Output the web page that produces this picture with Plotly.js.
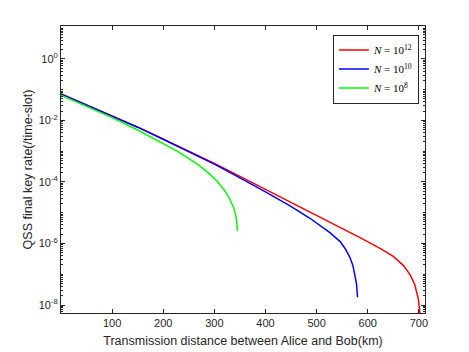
<!DOCTYPE html>
<html>
<head>
<meta charset="utf-8">
<script src="https://cdn.plot.ly/plotly-3.0.1.min.js"></script>
<style>
  html, body { margin: 0; padding: 0; background: #ffffff; }
  #chart { width: 469px; height: 352px; }
</style>
</head>
<body>
<div id="chart"></div>
<script>
// Distance (km) and key rate for each block size N
const distN12 = [0, 50, 100, 150, 200, 250, 300, 350, 400, 450, 500, 546, 585, 624, 650, 670, 683, 692, 699, 703];
const rateN12 = [7.24e-2, 3.16e-2, 1.45e-2, 6.03e-3, 2.45e-3, 1.00e-3, 3.98e-4, 1.51e-4, 5.75e-5, 2.19e-5,
                 8.32e-6, 3.39e-6, 1.55e-6, 6.92e-7, 3.80e-7, 1.91e-7, 9.55e-8, 4.57e-8, 1.58e-8, 4.0e-9];

const distN10 = [0, 50, 100, 150, 200, 250, 300, 350, 400, 448, 487, 526, 536, 546, 556, 565, 571, 575, 578, 580];
const rateN10 = [7.24e-2, 3.16e-2, 1.45e-2, 6.03e-3, 2.45e-3, 9.77e-4, 3.80e-4, 1.35e-4, 4.79e-5, 1.66e-5,
                 6.61e-6, 2.24e-6, 1.66e-6, 1.15e-6, 6.76e-7, 3.55e-7, 1.91e-7, 1.00e-7, 5.00e-8, 1.78e-8];

const distN8 = [0, 50, 100, 150, 200, 230, 250, 270, 290, 305, 320, 330, 338, 342, 344, 345];
const rateN8 = [6.61e-2, 2.88e-2, 1.23e-2, 4.90e-3, 1.82e-3, 9.55e-4, 5.75e-4, 3.47e-4, 1.86e-4, 1.07e-4,
                5.25e-5, 2.82e-5, 1.41e-5, 7.94e-6, 4.47e-6, 2.51e-6];

const seriesNames = ['<i>N</i> = 10<sup>12</sup>', '<i>N</i> = 10<sup>10</sup>', '<i>N</i> = 10<sup>8</sup>'];

const xTicks = [100, 200, 300, 400, 500, 600, 700];
const yTicks = [1e-8, 1e-6, 1e-4, 1e-2, 1];
const yTickText = ['10<sup>-8</sup>', '10<sup>-6</sup>', '10<sup>-4</sup>', '10<sup>-2</sup>', '10<sup>0</sup>'];

// minor ticks of the log axis: every decade and its 2..9 multiples
const yMinor = [];
for (let e = -9; e <= 1; e++) {
    for (let k = 1; k <= 9; k++) {
        if (k === 1 && e % 2 === 0) continue;
        yMinor.push(k * Math.pow(10, e));
    }
}

const axisColor = '#262626';
const tickFont = { family: 'Liberation Sans, Arial, sans-serif', size: 11, color: axisColor };
const titleFont = { family: 'Liberation Sans, Arial, sans-serif', size: 12.5, color: axisColor };

const traces = [
    { x: distN12, y: rateN12, name: seriesNames[0], color: '#ff0000' },
    { x: distN10, y: rateN10, name: seriesNames[1], color: '#0000ff' },
    { x: distN8, y: rateN8, name: seriesNames[2], color: '#00ff00' }
].map(s => ({
    type: 'scatter',
    mode: 'lines',
    x: s.x,
    y: s.y,
    name: s.name,
    line: { color: s.color, width: 1.5 }
}));

const layout = {
    width: 469,
    height: 352,
    margin: { l: 61, r: 44, t: 26, b: 39 },
    paper_bgcolor: '#ffffff',
    plot_bgcolor: '#ffffff',
    showlegend: true,
    legend: {
        x: 0.747,
        y: 0.97,
        xanchor: 'left',
        yanchor: 'top',
        bgcolor: '#ffffff',
        bordercolor: axisColor,
        borderwidth: 1,
        font: { family: 'Liberation Serif, DejaVu Serif, serif', size: 11, color: '#000000' },
        tracegroupgap: 0,
        itemwidth: 30
    },
    xaxis: {
        range: [0, 712],
        tickvals: xTicks,
        ticktext: xTicks.map(String),
        ticks: 'inside',
        ticklen: 4,
        tickcolor: axisColor,
        showline: true,
        linecolor: axisColor,
        linewidth: 1,
        mirror: 'allticks',
        showgrid: false,
        zeroline: false,
        tickfont: tickFont,
        title: {
            text: 'Transmission distance between Alice and Bob(km)',
            font: titleFont,
            standoff: 8
        }
    },
    yaxis: {
        type: 'log',
        range: [-8.26, 1.07],
        tickvals: yTicks,
        ticktext: yTickText,
        ticks: 'inside',
        ticklen: 4,
        tickcolor: axisColor,
        showline: true,
        linecolor: axisColor,
        linewidth: 1,
        mirror: 'allticks',
        showgrid: false,
        zeroline: false,
        tickfont: tickFont,
        minor: {
            tickvals: yMinor,
            ticks: 'inside',
            ticklen: 2,
            tickcolor: axisColor,
            showgrid: false
        },
        title: {
            text: 'QSS final key rate(/time-slot)',
            font: titleFont,
            standoff: 3
        }
    }
};

Plotly.newPlot('chart', traces, layout, { displayModeBar: false, staticPlot: true });
</script>
</body>
</html>
